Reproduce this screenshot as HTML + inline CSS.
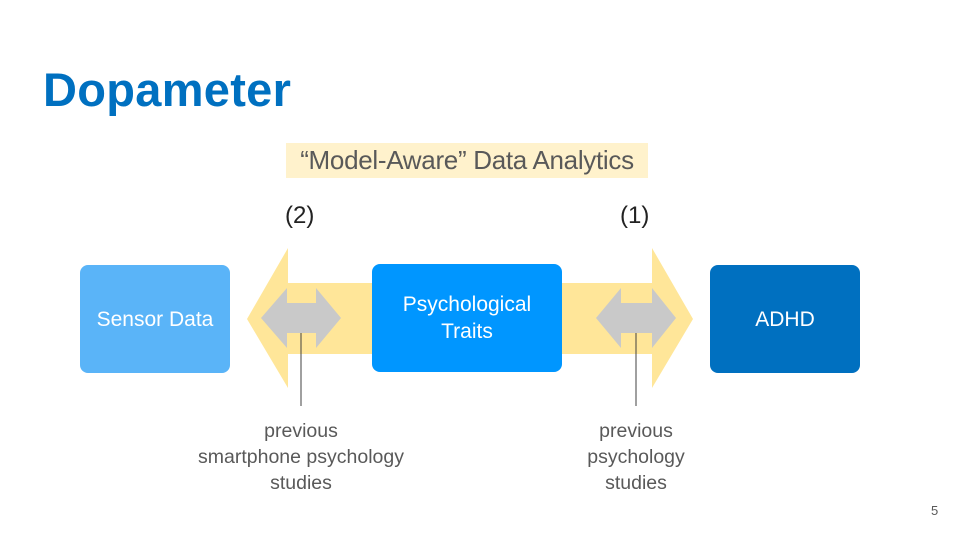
<!DOCTYPE html>
<html><head><style>
body{margin:0;width:960px;height:540px;background:#fff;position:relative;overflow:hidden;font-family:"Liberation Sans",sans-serif}
.a{position:absolute}
.t{left:43px;top:62px;font-size:47px;font-weight:bold;color:#0070c0;letter-spacing:0.3px}
.hl{left:286px;top:143px;width:362px;height:35px;background:#fff2cc;color:#595959;font-size:26px;line-height:35px;text-align:center;white-space:nowrap;letter-spacing:-0.3px}
.n{font-size:24px;color:#222;top:202px}
.box{color:#fff;font-size:21px;display:flex;align-items:center;justify-content:center;text-align:center;border-radius:8px;height:108px;line-height:27px}
.lb{color:#595959;font-size:19.5px;line-height:26px;text-align:center;width:260px;top:418px}
</style></head><body>
<div class="a t">Dopameter</div>
<div class="a hl">“Model-Aware” Data Analytics</div>
<div class="a n" style="left:285px">(2)</div>
<div class="a n" style="left:620px">(1)</div>
<svg class="a" style="left:0;top:0" width="960" height="540">
<polygon points="247,319 288,248 288,283 380,283 380,354 288,354 288,388" fill="#ffe699"/>
<polygon points="693,319 652,248 652,283 555,283 555,354 652,354 652,388" fill="#ffe699"/>
<polygon points="261,318 287,288 287,303 316,303 316,288 341,318 316,348 316,333 287,333 287,348" fill="#c9c9c9"/>
<polygon points="596,318 621,288 621,303 652,303 652,288 676,318 652,348 652,333 621,333 621,348" fill="#c9c9c9"/>
<line x1="301" y1="333" x2="301" y2="406" stroke="#404040" stroke-width="1"/>
<line x1="636" y1="333" x2="636" y2="406" stroke="#404040" stroke-width="1"/>
</svg>
<div class="a box" style="left:80px;top:265px;width:150px;background:#5ab4f8">Sensor Data</div>
<div class="a box" style="left:372px;top:264px;width:190px;background:#0096ff">Psychological<br>Traits</div>
<div class="a box" style="left:710px;top:265px;width:150px;background:#0070c0">ADHD</div>
<div class="a lb" style="left:171px">previous<br>smartphone psychology<br>studies</div>
<div class="a lb" style="left:506px">previous<br>psychology<br>studies</div>
<div class="a" style="left:931px;top:503px;font-size:13px;color:#595959">5</div>
</body></html>
